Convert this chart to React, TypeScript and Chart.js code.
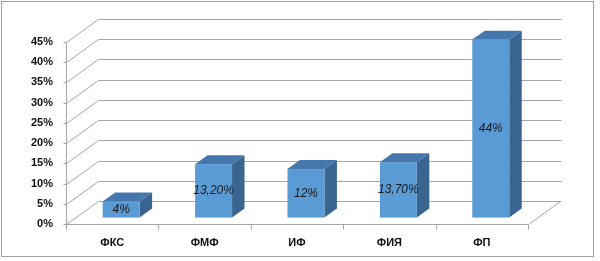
import React, { useEffect, useRef } from "react";
import { Chart, registerables } from "chart.js";

Chart.register(...registerables);

const categories = ["ФКС", "ФМФ", "ИФ", "ФИЯ", "ФП"];
const values = [4, 13.2, 12, 13.7, 44];
const valueLabels = ["4%", "13,20%", "12%", "13,70%", "44%"];
const yTicks = [0, 5, 10, 15, 20, 25, 30, 35, 40, 45];

const DEPTH_X = 32;
const DEPTH_Y = -23;
const BAR_F1 = 0.28;
const BAR_F2 = 0.67;
const GRID = "#a6a6a6";
const FRONT = "#5b9bd5";
const TOP = "#4577ad";
const SIDE = "#3a6590";

const wallsPlugin = {
  id: "walls3d",
  beforeDatasetsDraw(chart: any) {
    const ctx = chart.ctx;
    const ys = chart.scales.y;
    const xs = chart.scales.x;
    const { left, right, top, bottom } = chart.chartArea;
    ctx.save();
    ctx.strokeStyle = GRID;
    ctx.lineWidth = 1;
    const px = (v: number) => Math.round(v) + 0.5;
    ctx.beginPath();
    for (const t of yTicks) {
      const y = ys.getPixelForValue(t);
      // tick mark
      ctx.moveTo(px(left) - 3, px(y));
      ctx.lineTo(px(left), px(y));
      // left wall diagonal
      ctx.moveTo(px(left), px(y));
      ctx.lineTo(px(left + DEPTH_X), px(y + DEPTH_Y));
      // back wall line
      ctx.lineTo(px(right + DEPTH_X + 1), px(y + DEPTH_Y));
    }
    // vertical axis line
    ctx.moveTo(px(left), px(top));
    ctx.lineTo(px(left), px(bottom));
    // floor front edge and right diagonal
    ctx.moveTo(px(left), px(bottom));
    ctx.lineTo(px(right), px(bottom));
    ctx.lineTo(px(right + DEPTH_X), px(bottom + DEPTH_Y));
    // x tick marks at category boundaries
    const n = categories.length;
    for (let i = 0; i <= n; i++) {
      const xb = left + ((right - left) * i) / n;
      ctx.moveTo(px(xb), px(bottom));
      ctx.lineTo(px(xb), px(bottom) + 5);
    }
    ctx.stroke();
    ctx.restore();
  },
  afterDatasetsDraw(chart: any) {
    const ctx = chart.ctx;
    const meta = chart.getDatasetMeta(0);
    ctx.save();
    meta.data.forEach((el: any, i: number) => {
      const w = el.width;
      const ox = DEPTH_X * BAR_F1;
      const oy = DEPTH_Y * BAR_F1;
      const dx = DEPTH_X * (BAR_F2 - BAR_F1);
      const dy = DEPTH_Y * (BAR_F2 - BAR_F1);
      const l = el.x - w / 2 + ox;
      const r = el.x + w / 2 + ox;
      const t = el.y + oy;
      const b = el.base + oy;
      // side
      ctx.fillStyle = SIDE;
      ctx.beginPath();
      ctx.moveTo(r, t);
      ctx.lineTo(r + dx, t + dy);
      ctx.lineTo(r + dx, b + dy);
      ctx.lineTo(r, b);
      ctx.closePath();
      ctx.fill();
      // top
      ctx.fillStyle = TOP;
      ctx.beginPath();
      ctx.moveTo(l, t);
      ctx.lineTo(l + dx, t + dy);
      ctx.lineTo(r + dx, t + dy);
      ctx.lineTo(r, t);
      ctx.closePath();
      ctx.fill();
      // front
      ctx.fillStyle = FRONT;
      ctx.fillRect(l, t, r - l, b - t);
      // label
      ctx.fillStyle = "#1a1a1a";
      ctx.font = "italic 12px 'Liberation Sans', Arial, sans-serif";
      ctx.textAlign = "center";
      ctx.textBaseline = "middle";
      ctx.fillText(valueLabels[i], (l + r) / 2, (t + b) / 2);
    });
    ctx.restore();
  },
};

const borderPlugin = {
  id: "outerBorder",
  afterDraw(chart: any) {
    const ctx = chart.ctx;
    ctx.save();
    ctx.strokeStyle = "#a0a0a0";
    ctx.lineWidth = 1;
    ctx.strokeRect(1.5, 1.5, 592, 255);
    ctx.restore();
  },
};

export default function App() {
  const ref = useRef<HTMLCanvasElement | null>(null);
  useEffect(() => {
    document.body.style.margin = "0";
    const canvas = ref.current;
    if (!canvas) return;
    const chart = new Chart(canvas, {
      type: "bar",
      data: {
        labels: categories,
        datasets: [
          {
            data: values,
            backgroundColor: "rgba(0,0,0,0)",
            borderWidth: 0,
            barPercentage: 0.4,
            categoryPercentage: 1,
          },
        ],
      },
      options: {
        responsive: false,
        animation: false,
        layout: { padding: { left: 0, top: 42, right: 72, bottom: 0 }, autoPadding: false },
        plugins: { legend: { display: false }, tooltip: { enabled: false } },
        scales: {
          x: {
            grid: { display: false, drawTicks: false },
            border: { display: false },
            ticks: {
              padding: 12,
              color: "#111",
              font: { family: "'Liberation Sans', Arial, sans-serif", size: 11, weight: "bold" },
            },
            afterFit(scale: any) {
              scale.height = 37;
            },
          },
          y: {
            min: 0,
            max: 45,
            grid: { display: false, drawTicks: false },
            border: { display: false },
            ticks: {
              stepSize: 5,
              padding: 13,
              color: "#111",
              callback: (v: any) => v + "%",
              font: { family: "'Liberation Sans', Arial, sans-serif", size: 11, weight: "bold" },
            },
            afterFit(scale: any) {
              scale.width = 66;
            },
          },
        },
      },
      plugins: [wallsPlugin, borderPlugin],
    });
    return () => chart.destroy();
  }, []);
  return <canvas ref={ref} width={600} height={261} style={{ display: "block" }} />;
}
